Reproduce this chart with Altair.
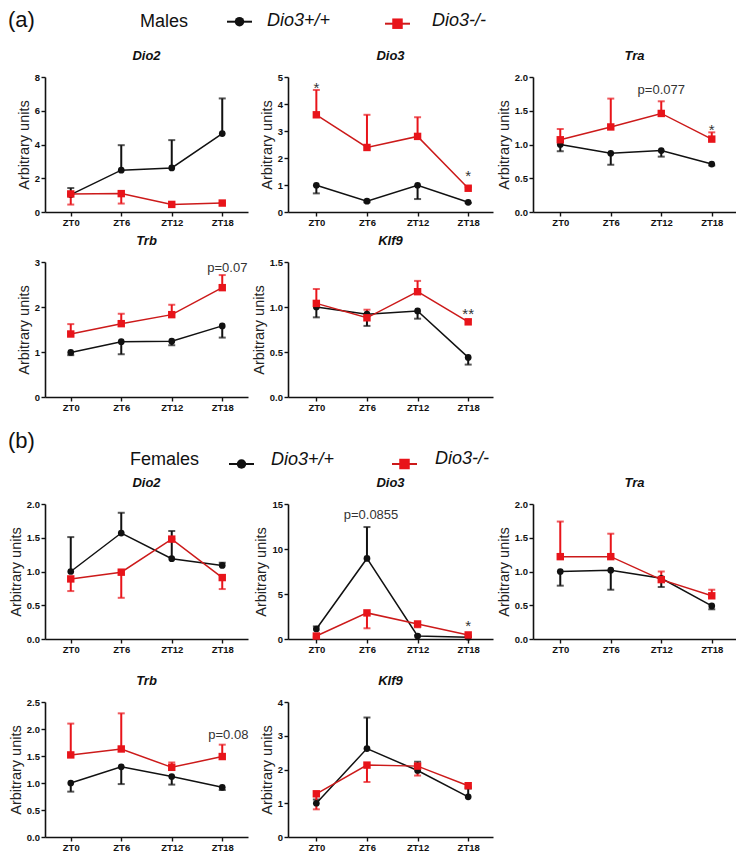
import altair as alt
import pandas as pd

FONT = "Liberation Sans"
BLACK = "#111111"
RED = "#e8141a"
RED_LINE = "#cc1a1a"

zt_labels = ["ZT0", "ZT6", "ZT12", "ZT18"]
genotypes = ["Dio3+/+", "Dio3-/-"]

# ---- Males: mean values and the end of the one-sided error bar ----
m_dio2_wt = [1.03, 2.48, 2.61, 4.65]
m_dio2_wt_err = [1.42, 3.96, 4.26, 6.73]
m_dio2_ko = [1.07, 1.09, 0.45, 0.53]
m_dio2_ko_err = [0.44, 0.50, 0.45, 0.53]

m_dio3_wt = [0.99, 0.40, 0.99, 0.36]
m_dio3_wt_err = [0.69, 0.36, 0.48, 0.33]
m_dio3_ko = [3.60, 2.39, 2.80, 0.88]
m_dio3_ko_err = [4.52, 3.60, 3.51, 0.92]

m_tra_wt = [1.00, 0.87, 0.91, 0.71]
m_tra_wt_err = [0.90, 0.70, 0.82, 0.69]
m_tra_ko = [1.07, 1.26, 1.46, 1.08]
m_tra_ko_err = [1.23, 1.68, 1.64, 1.18]

m_trb_wt = [0.99, 1.23, 1.24, 1.58]
m_trb_wt_err = [0.93, 0.95, 1.15, 1.32]
m_trb_ko = [1.40, 1.63, 1.83, 2.43]
m_trb_ko_err = [1.62, 1.85, 2.05, 2.71]

m_klf9_wt = [1.00, 0.92, 0.956, 0.44]
m_klf9_wt_err = [0.885, 0.79, 0.87, 0.36]
m_klf9_ko = [1.04, 0.88, 1.17, 0.835]
m_klf9_ko_err = [1.20, 0.97, 1.29, 0.86]

# ---- Females ----
f_dio2_wt = [1.00, 1.57, 1.19, 1.09]
f_dio2_wt_err = [1.51, 1.87, 1.60, 1.13]
f_dio2_ko = [0.89, 0.99, 1.48, 0.91]
f_dio2_ko_err = [0.71, 0.61, 1.48, 0.74]

f_dio3_wt = [1.11, 8.95, 0.33, 0.20]
f_dio3_wt_err = [1.40, 12.44, 0.40, 0.25]
f_dio3_ko = [0.33, 2.90, 1.67, 0.45]
f_dio3_ko_err = [0.20, 1.19, 1.30, 0.40]

f_tra_wt = [1.00, 1.02, 0.90, 0.49]
f_tra_wt_err = [0.79, 0.73, 0.77, 0.44]
f_tra_ko = [1.22, 1.22, 0.88, 0.64]
f_tra_ko_err = [1.74, 1.56, 1.00, 0.73]

f_trb_wt = [1.00, 1.30, 1.12, 0.92]
f_trb_wt_err = [0.84, 0.98, 0.97, 0.87]
f_trb_ko = [1.52, 1.63, 1.29, 1.49]
f_trb_ko_err = [2.10, 2.29, 1.38, 1.71]

f_klf9_wt = [1.00, 2.62, 1.97, 1.19]
f_klf9_wt_err = [1.11, 3.54, 2.23, 1.44]
f_klf9_ko = [1.28, 2.13, 2.10, 1.52]
f_klf9_ko_err = [0.82, 1.63, 1.82, 1.49]

# ---- annotations: (x index, y value, text, font size) ----
m_dio3_notes = [(0, 4.40, "*", 15), (3, 1.13, "*", 15)]
m_tra_notes = [(2, 1.75, "p=0.077", 13), (3, 1.14, "*", 15)]
m_trb_notes = [(3.1, 2.78, "p=0.07", 13)]
m_klf9_notes = [(3, 0.87, "**", 15)]
f_dio3_notes = [(1.08, 13.3, "p=0.0855", 13), (3, 0.86, "*", 15)]
f_trb_notes = [(3.12, 1.82, "p=0.08", 13)]

label_expr = "[" + ",".join("'%s'" % z for z in zt_labels) + "][datum.value]"

H = 135
COL_W = [203, 205, 203]
COL_DOM = [[-0.51, 3.51], [-0.56, 3.49], [-0.54, 3.48]]


def series_df(vals, errs):
    return pd.DataFrame({"x": list(range(len(zt_labels))), "zt": zt_labels,
                         "value": vals, "err": errs})


def panel(title, col, wt, wt_err, ko, ko_err, ymax, yticks, yfmt, notes=None):
    xs = alt.Scale(domain=COL_DOM[col], nice=False, zero=False)
    ys = alt.Scale(domain=[0, ymax], nice=False, zero=True)
    xax = alt.Axis(values=[0, 1, 2, 3], labelExpr=label_expr, title=None, grid=False)
    yax = alt.Axis(values=yticks, format=yfmt, title="Arbitrary units", grid=False)

    def X(f="x"):
        return alt.X(f + ":Q", scale=xs, axis=xax)

    def Y(f):
        return alt.Y(f + ":Q", scale=ys, axis=yax)

    layers = []
    specs = [(wt, wt_err, BLACK, BLACK, "circle", 45),
             (ko, ko_err, RED_LINE, RED, "square", 55)]
    for vals, errs, lc, mc, shape, size in specs:
        b = alt.Chart(series_df(vals, errs))
        layers.append(b.mark_line(color=lc, strokeWidth=1.5).encode(x=X(), y=Y("value")))
    for vals, errs, lc, mc, shape, size in specs:
        b = alt.Chart(series_df(vals, errs))
        layers.append(b.mark_rule(color=mc, strokeWidth=2).encode(
            x=X(), y=Y("value"), y2=alt.Y2("err")))
        layers.append(b.mark_tick(color=mc, orient="horizontal", size=7, thickness=2).encode(
            x=X(), y=Y("err")))
    for vals, errs, lc, mc, shape, size in specs:
        b = alt.Chart(series_df(vals, errs))
        layers.append(b.mark_point(shape=shape, filled=True, size=size, color=mc, opacity=1).encode(
            x=X(), y=Y("value")))
    if notes:
        ndf = pd.DataFrame({"nx": [n[0] for n in notes], "ny": [n[1] for n in notes],
                            "t": [n[2] for n in notes], "fs": [n[3] for n in notes]})
        layers.append(alt.Chart(ndf).mark_text(font=FONT, color="#333333", baseline="alphabetic",
                                               align="center").encode(
            x=X("nx"), y=Y("ny"), text="t:N", size=alt.Size("fs:Q", scale=None)))
    return alt.layer(*layers).properties(
        width=COL_W[col], height=H,
        title=alt.TitleParams(text=title, font=FONT, fontSize=13, fontWeight="bold",
                              fontStyle="italic", anchor="middle", color=BLACK, offset=9))


dummy = pd.DataFrame({"d": [0]})


def header(sec, sex, h, p):
    b = alt.Chart(dummy)
    layers = [
        b.mark_text(text=sec, font=FONT, fontSize=22, align="left", baseline="middle",
                    color=BLACK).encode(x=alt.value(p["sec"][0]), y=alt.value(p["sec"][1])),
        b.mark_text(text=sex, font=FONT, fontSize=18, align="left", baseline="middle",
                    color=BLACK).encode(x=alt.value(p["sex"][0]), y=alt.value(p["sex"][1])),
        b.mark_rule(color=BLACK, strokeWidth=2).encode(
            x=alt.value(p["s1"][0]), x2=alt.value(p["s1"][1]), y=alt.value(p["s1"][2])),
        b.mark_point(shape="circle", filled=True, size=90, color=BLACK, opacity=1).encode(
            x=alt.value((p["s1"][0] + p["s1"][1]) / 2), y=alt.value(p["s1"][2])),
        b.mark_text(text=genotypes[0], font=FONT, fontSize=18, fontStyle="italic", align="left",
                    baseline="middle", color=BLACK).encode(
            x=alt.value(p["l1"][0]), y=alt.value(p["l1"][1])),
        b.mark_rule(color=RED_LINE, strokeWidth=2).encode(
            x=alt.value(p["s2"][0]), x2=alt.value(p["s2"][1]), y=alt.value(p["s2"][2])),
        b.mark_point(shape="square", filled=True, size=110, color=RED, opacity=1).encode(
            x=alt.value((p["s2"][0] + p["s2"][1]) / 2), y=alt.value(p["s2"][2])),
        b.mark_text(text=genotypes[1], font=FONT, fontSize=18, fontStyle="italic", align="left",
                    baseline="middle", color=BLACK).encode(
            x=alt.value(p["l2"][0]), y=alt.value(p["l2"][1])),
    ]
    return alt.layer(*layers).properties(width=COL_W[0], height=h)


def spacer(h, w=1):
    return alt.Chart(dummy).mark_rule(strokeWidth=0, opacity=0).encode(
        x=alt.value(0), x2=alt.value(1), y=alt.value(h / 2)).properties(width=w, height=h)


HA, HB, S1, S2 = 47, 67, 10, 23

hdr_a = header("(a)", "Males", HA, {
    "sec": (-37, 9.5), "sex": (95, 11.5), "s1": (182, 207, 11.7), "l1": (222, 11),
    "s2": (340, 365, 13.7), "l2": (387, 11)})
hdr_b = header("(b)", "Females", HB, {
    "sec": (-37, 24), "sex": (85, 43), "s1": (184, 209, 47), "l1": (226, 43),
    "s2": (347, 372, 47), "l2": (390, 42)})

t2 = [0, 0.5, 1.0, 1.5, 2.0]

cells = [
    hdr_a, spacer(HA), spacer(HA),
    panel("Dio2", 0, m_dio2_wt, m_dio2_wt_err, m_dio2_ko, m_dio2_ko_err, 8, [0, 2, 4, 6, 8], "d"),
    panel("Dio3", 1, m_dio3_wt, m_dio3_wt_err, m_dio3_ko, m_dio3_ko_err, 5, [0, 1, 2, 3, 4, 5], "d",
          m_dio3_notes),
    panel("Tra", 2, m_tra_wt, m_tra_wt_err, m_tra_ko, m_tra_ko_err, 2, t2, ".1f", m_tra_notes),
    spacer(S1), spacer(S1), spacer(S1),
    panel("Trb", 0, m_trb_wt, m_trb_wt_err, m_trb_ko, m_trb_ko_err, 3, [0, 1, 2, 3], "d", m_trb_notes),
    panel("Klf9", 1, m_klf9_wt, m_klf9_wt_err, m_klf9_ko, m_klf9_ko_err, 1.5, [0, 0.5, 1.0, 1.5],
          ".1f", m_klf9_notes),
    spacer(H),
    hdr_b, spacer(HB), spacer(HB),
    panel("Dio2", 0, f_dio2_wt, f_dio2_wt_err, f_dio2_ko, f_dio2_ko_err, 2, t2, ".1f"),
    panel("Dio3", 1, f_dio3_wt, f_dio3_wt_err, f_dio3_ko, f_dio3_ko_err, 15, [0, 5, 10, 15], "d",
          f_dio3_notes),
    panel("Tra", 2, f_tra_wt, f_tra_wt_err, f_tra_ko, f_tra_ko_err, 2, t2, ".1f"),
    spacer(S2), spacer(S2), spacer(S2),
    panel("Trb", 0, f_trb_wt, f_trb_wt_err, f_trb_ko, f_trb_ko_err, 2.5, [0, 0.5, 1.0, 1.5, 2.0, 2.5],
          ".1f", f_trb_notes),
    panel("Klf9", 1, f_klf9_wt, f_klf9_wt_err, f_klf9_ko, f_klf9_ko_err, 4, [0, 1, 2, 3, 4], "d"),
    spacer(H),
]

chart = alt.concat(*cells, columns=3, spacing={"row": 20, "column": 40}, bounds="flush").properties(
    padding={"left": 0, "top": 0, "right": 0, "bottom": 0}, background="white"
).configure_view(stroke=None).configure_axis(
    domainColor=BLACK, domainWidth=1.6, tickColor=BLACK, tickWidth=1.4, tickSize=4,
    labelFont=FONT, labelFontWeight="bold", labelFontSize=9.5, labelColor=BLACK, labelPadding=1.5,
    titleFont=FONT, titleFontSize=14.5, titleFontWeight="normal", titleColor="#222222",
    titlePadding=3, grid=False
)

chart.save("out.html", embed_options={"renderer": "svg", "actions": False})
